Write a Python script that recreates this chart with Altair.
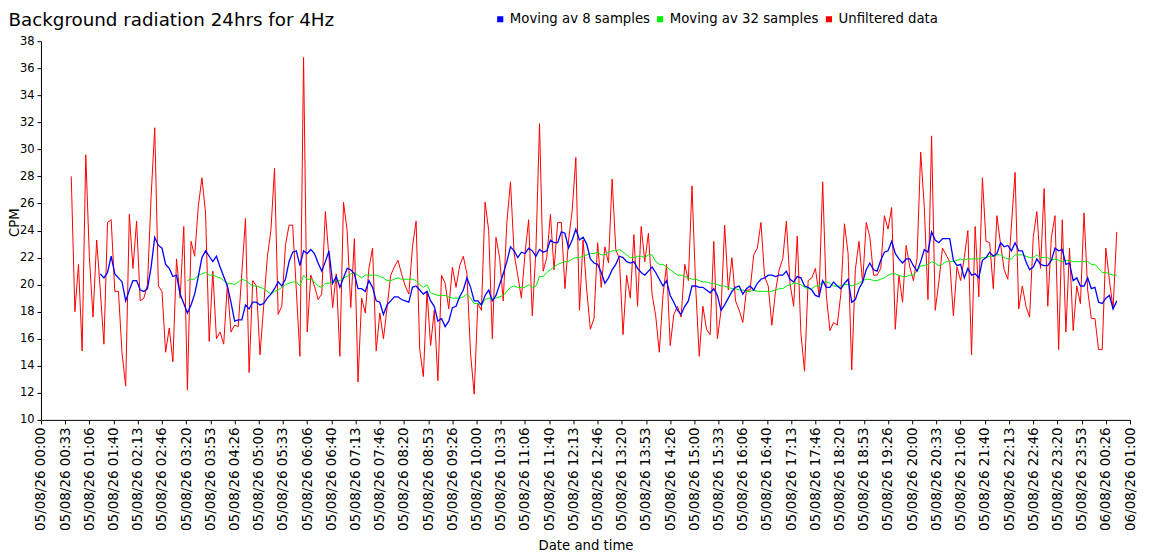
import json
import pandas as pd
import altair as alt

# ---------------- data ----------------
START_MIN = 41.7      # first sample time, minutes after 05/08/26 00:00
STEP_MIN = 5          # sample interval in minutes

UNFILTERED = [
    28.0, 18.0, 21.5, 15.1, 29.6, 22.0, 17.6, 23.3, 19.6, 15.6,
    24.6, 24.8, 19.5, 19.5, 14.9, 12.5, 25.2, 21.2, 24.7, 18.8,
    19.0, 20.0, 26.5, 31.6, 19.9, 19.5, 15.0, 16.8, 14.3, 21.9,
    19.0, 24.3, 12.2, 23.2, 22.1, 25.8, 27.9, 25.3, 15.8, 21.0,
    16.0, 16.5, 15.6, 20.0, 16.5, 17.0, 16.9,
    20.9, 24.9, 13.5, 20.3, 19.9, 14.8, 18.4, 22.0, 24.0, 28.6,
    17.8, 18.4, 22.9, 24.4, 24.4, 19.6, 14.7, 36.8, 16.5, 20.7,
    19.9, 18.9, 19.3, 25.4, 22.0, 18.3, 20.8, 14.7, 26.1, 24.0,
    18.3, 23.4, 12.8, 19.0, 17.9, 21.2, 22.7, 15.1, 17.9, 16.0,
    18.3, 20.7, 21.3, 21.8, 20.8, 19.9, 19.3, 22.8,
    24.7, 15.2, 13.2, 19.5, 15.5, 18.1, 12.9, 20.7, 20.1, 18.2,
    21.3, 19.8, 21.4, 22.1, 20.8, 14.9, 11.9, 18.6, 18.1, 26.1,
    24.0, 16.0, 23.5, 22.0, 18.8, 24.6, 27.6, 22.3, 20.7, 19.0,
    22.3, 24.8, 17.7, 22.5, 31.9, 21.0, 22.0, 25.2, 21.1, 24.6,
    24.6, 19.7, 23.3, 25.5, 29.4, 18.1, 23.3, 19.6,
    16.7, 17.5, 23.1, 19.8, 22.8, 21.6, 27.8, 22.6, 21.9, 16.3,
    20.7, 19.0, 23.7, 18.4, 24.3, 21.7, 23.8, 19.3, 17.7, 15.0,
    19.2, 21.5, 15.5, 17.8, 18.4, 17.6, 21.5, 20.3, 27.3, 19.9,
    14.7, 18.4, 16.7, 16.3, 23.2, 16.0, 18.1, 24.4, 19.6, 22.0,
    18.8, 18.1, 17.2, 19.6, 19.6, 22.2, 22.7, 24.6, 20.6,
    19.9, 17.0, 19.5, 21.1, 21.9, 24.7, 20.1, 18.4, 23.6, 16.4,
    13.6, 20.3, 20.5, 21.2, 19.2, 27.6, 19.2, 16.6, 17.2, 17.0,
    19.3, 24.5, 22.3, 13.7, 21.1, 23.2, 20.1, 24.6, 23.5, 20.7,
    20.7, 21.2, 25.1, 24.1, 25.7, 16.7, 20.7, 18.7, 22.9, 21.3,
    20.3, 22.0, 29.8, 25.7, 18.9, 31.0, 18.1,
    20.2, 22.7, 22.2, 21.7, 17.7, 21.3, 20.3, 22.0, 24.0, 14.8,
    24.3, 19.1, 27.9, 23.2, 23.1, 19.7, 25.1, 23.0, 21.1, 20.4,
    24.4, 28.3, 18.2, 19.9, 18.4, 17.6, 23.5, 25.4, 21.2, 27.1,
    18.4, 23.5, 25.1, 15.2, 24.8, 16.5, 22.7, 16.6, 19.9, 18.6,
    25.3, 19.6, 17.5, 17.5, 15.2, 15.2, 22.7, 20.3, 18.2, 23.9,
]

AV8_FIRST = 8         # index of the first sample that has an 8-sample average
AV8 = [
    20.8, 20.5, 20.9, 22.1, 20.8, 20.5, 20.2, 18.8, 19.6, 20.3,
    20.3, 19.6, 19.5, 19.7, 21.3, 23.5, 22.9, 22.7, 21.5, 21.2,
    20.6, 20.7, 19.3, 18.6, 17.9, 18.5, 19.3, 20.6, 22.0, 22.5,
    22.1, 21.7, 22.1, 21.3, 20.6, 19.9, 18.7, 17.3, 17.4,
    17.4, 18.5, 18.2, 18.7, 18.7, 18.5, 18.6, 19.0, 19.3, 19.7,
    20.2, 19.9, 20.4, 21.7, 22.4, 22.5, 21.4, 22.5, 22.3, 22.6,
    22.3, 21.6, 21.0, 21.7, 22.5, 20.1, 20.6, 19.8, 20.5, 21.2,
    21.1, 20.8, 19.7, 19.7, 19.5, 20.3, 19.8, 18.8, 18.7, 17.8,
    18.5, 18.8, 19.1, 19.1, 18.9, 18.8, 18.7, 19.8,
    19.9, 19.6, 19.3, 19.5, 18.8, 18.4, 17.3, 17.5, 16.9, 17.3,
    18.3, 18.4, 19.1, 19.6, 20.5, 19.8, 18.8, 18.8, 18.5, 19.2,
    19.6, 18.8, 19.2, 20.0, 20.8, 21.7, 22.8, 22.5, 22.0, 22.4,
    22.3, 22.7, 22.5, 22.1, 22.6, 22.4, 22.5, 23.3, 23.1, 23.1,
    23.9, 23.8, 22.7, 23.3, 24.1, 23.3, 23.5, 23.0,
    21.9, 21.6, 21.5, 20.9, 20.1, 20.5, 21.1, 21.5, 22.1, 22.0,
    21.7, 21.6, 21.7, 21.2, 20.9, 20.7, 21.0, 21.3, 20.9, 20.4,
    19.9, 20.3, 19.2, 18.7, 18.1, 17.8, 18.4, 18.8, 19.9, 19.9,
    19.8, 19.8, 19.6, 19.4, 19.7, 19.2, 18.1, 18.5, 19.0, 19.5,
    19.8, 19.9, 19.3, 19.7, 19.9, 19.6, 20.1, 20.4, 20.5,
    20.7, 20.7, 20.6, 20.7, 20.7, 21.0, 20.4, 20.2, 20.6, 20.5,
    19.9, 19.8, 19.6, 19.2, 19.1, 20.3, 19.8, 19.8, 20.2, 19.9,
    19.7, 20.1, 20.4, 18.7, 18.9, 19.7, 20.2, 21.1, 21.6, 21.1,
    21.0, 21.8, 22.4, 22.5, 23.2, 22.3, 21.9, 21.6, 21.9, 21.9,
    21.4, 21.0, 21.7, 22.6, 22.4, 23.9, 23.3, 23.1,
    23.4, 23.4, 23.4, 21.8, 21.4, 21.5, 20.5, 21.2, 20.7, 20.8,
    20.5, 21.8, 22.0, 22.4, 22.1, 22.3, 23.1, 22.8, 22.9, 22.5,
    23.1, 22.5, 22.5, 21.7, 21.1, 21.3, 21.9, 21.5, 21.4, 21.4,
    21.8, 22.7, 22.5, 22.6, 21.5, 21.6, 20.3, 20.5, 19.9, 19.9,
    20.5, 19.7, 19.8, 18.7, 18.6, 19.0, 19.2, 18.2, 18.8,
]

AV32_FIRST = 32       # index of the first sample that has a 32-sample average
AV32 = [
    20.3, 20.4, 20.4, 20.7, 20.8, 20.9, 20.7, 20.7, 20.6, 20.5,
    20.3, 20.1, 20.1, 20.0, 20.2,
    20.4, 20.3, 20.1, 19.9, 19.9, 19.8, 19.7, 19.5, 19.3, 19.5,
    19.6, 19.8, 20.0, 20.1, 20.2, 20.2, 19.9, 20.7, 20.4, 20.4,
    20.2, 19.9, 19.8, 20.1, 20.1, 20.2, 20.3, 20.3, 20.5, 20.6,
    20.8, 20.9, 20.7, 20.5, 20.7, 20.7, 20.7, 20.7, 20.6, 20.5,
    20.3, 20.3, 20.4, 20.5, 20.4, 20.4, 20.4, 20.4,
    20.3, 20.0, 19.8, 20.0, 19.4, 19.3, 19.2, 19.2, 19.2, 19.1,
    19.0, 19.0, 19.0, 19.1, 19.3, 19.0, 18.6, 18.6, 18.5, 18.9,
    19.0, 19.0, 19.0, 19.1, 19.2, 19.5, 19.8, 19.9, 19.8, 19.8,
    19.8, 20.0, 19.8, 19.9, 20.6, 20.6, 20.9, 21.1, 21.3, 21.5,
    21.6, 21.7, 21.7, 21.9, 22.0, 22.0, 22.1, 22.2,
    22.3, 22.3, 22.4, 22.2, 22.2, 22.4, 22.5, 22.5, 22.6, 22.4,
    22.2, 22.0, 22.0, 22.1, 22.1, 22.0, 22.2, 22.2, 21.7, 21.5,
    21.5, 21.3, 21.1, 20.9, 20.7, 20.7, 20.6, 20.5, 20.4, 20.4,
    20.3, 20.2, 20.2, 20.1, 20.1, 20.0, 19.9, 19.9, 19.8, 19.7,
    19.7, 19.6, 19.6, 19.5, 19.5, 19.6, 19.5, 19.5, 19.5,
    19.5, 19.5, 19.6, 19.7, 19.7, 19.9, 20.0, 20.1, 20.1, 20.0,
    19.8, 19.7, 19.7, 19.9, 19.9, 20.2, 20.2, 20.1, 19.9, 19.9,
    19.9, 20.0, 20.0, 19.9, 20.0, 20.1, 20.3, 20.4, 20.4, 20.3,
    20.3, 20.4, 20.5, 20.7, 20.8, 20.8, 20.7, 20.6, 20.6, 20.7,
    20.7, 21.0, 21.4, 21.4, 21.5, 21.7, 21.6, 21.4,
    21.5, 21.7, 21.7, 21.7, 21.8, 21.9, 21.8, 21.9, 21.9, 21.9,
    21.9, 22.0, 22.0, 22.1, 22.1, 22.2, 22.2, 22.0, 21.9, 21.9,
    22.2, 22.2, 22.2, 22.1, 22.0, 22.0, 22.2, 22.0, 22.0, 22.0,
    21.8, 21.9, 21.8, 21.7, 21.8, 21.8, 21.7, 21.7, 21.7, 21.7,
    21.7, 21.5, 21.5, 21.2, 20.9, 20.9, 20.8, 20.7, 20.7,
]

SERIES = ["Moving av 8 samples", "Moving av 32 samples", "Unfiltered data"]
COLORS = ["#0000ff", "#00ee00", "#ff0000"]

TICK_LABELS = [
    "05/08/26 00:00", "05/08/26 00:33", "05/08/26 01:06", "05/08/26 01:40",
    "05/08/26 02:13", "05/08/26 02:46", "05/08/26 03:20", "05/08/26 03:53",
    "05/08/26 04:26", "05/08/26 05:00", "05/08/26 05:33", "05/08/26 06:06",
    "05/08/26 06:40", "05/08/26 07:13", "05/08/26 07:46", "05/08/26 08:20",
    "05/08/26 08:53", "05/08/26 09:26", "05/08/26 10:00", "05/08/26 10:33",
    "05/08/26 11:06", "05/08/26 11:40", "05/08/26 12:13", "05/08/26 12:46",
    "05/08/26 13:20", "05/08/26 13:53", "05/08/26 14:26", "05/08/26 15:00",
    "05/08/26 15:33", "05/08/26 16:06", "05/08/26 16:40", "05/08/26 17:13",
    "05/08/26 17:46", "05/08/26 18:20", "05/08/26 18:53", "05/08/26 19:26",
    "05/08/26 20:00", "05/08/26 20:33", "05/08/26 21:06", "05/08/26 21:40",
    "05/08/26 22:13", "05/08/26 22:46", "05/08/26 23:20", "05/08/26 23:53",
    "06/08/26 00:26", "06/08/26 01:00",
]
X_SPAN_MIN = 1500     # 00:00 .. 01:00 next day
Y_TICKS = list(range(10, 39, 2))

# ---------------- build long table ----------------
rows = []
for i, v in enumerate(UNFILTERED):
    rows.append({"t": START_MIN + STEP_MIN * i, "v": v, "series": SERIES[2]})
for j, v in enumerate(AV32):
    rows.append({"t": START_MIN + STEP_MIN * (AV32_FIRST + j), "v": v, "series": SERIES[1]})
for j, v in enumerate(AV8):
    rows.append({"t": START_MIN + STEP_MIN * (AV8_FIRST + j), "v": v, "series": SERIES[0]})
df = pd.DataFrame(rows)

FONT = "DejaVu Sans"
tick_step = X_SPAN_MIN / (len(TICK_LABELS) - 1)
tick_values = [k * tick_step for k in range(len(TICK_LABELS))]
label_expr = f"{json.dumps(TICK_LABELS)}[round(datum.value / {tick_step})]"

x_enc = alt.X(
    "t:Q",
    scale=alt.Scale(domain=[0, X_SPAN_MIN], nice=False, zero=False),
    axis=alt.Axis(
        values=tick_values, labelExpr=label_expr, labelAngle=270,
        labelFont=FONT, labelFontSize=13.5, labelColor="black",
        labelOverlap=False, labelFlush=False, labelPadding=3,
        tickSize=4, tickColor="black", domainColor="black", grid=False,
        title="Date and time", titleFont=FONT, titleFontSize=13.3,
        titleFontWeight="normal", titleColor="black", titlePadding=8,
    ),
)
y_enc = alt.Y(
    "v:Q",
    scale=alt.Scale(domain=[10, 38], nice=False, zero=False),
    axis=alt.Axis(
        values=Y_TICKS, labelFont=FONT, labelFontSize=11.5, labelColor="black",
        tickSize=4, tickColor="black", domainColor="black", grid=False,
        labelPadding=3,
        title="CPM", titleFont=FONT, titleFontSize=13.3, titleFontWeight="normal",
        titleColor="black", titleX=-22.5, titleY=181, titleBaseline="alphabetic",
        titleAngle=270, titleAlign="center",
    ),
)
color_enc = alt.Color(
    "series:N",
    scale=alt.Scale(domain=SERIES, range=COLORS),
    legend=alt.Legend(
        title=None, orient="none", direction="horizontal",
        legendX=453, legendY=-29, padding=0,
        symbolType="square", symbolSize=10, symbolStrokeWidth=3,
        labelFont=FONT, labelFontSize=13.3, labelColor="black",
        labelOffset=3, columnPadding=2,
    ),
)

base = alt.Chart(df)
layers = []
for name, width in [(SERIES[2], 1.0), (SERIES[1], 1.0), (SERIES[0], 1.3)]:
    layers.append(
        base.transform_filter(alt.datum.series == name)
        .mark_line(strokeWidth=width, interpolate="linear")
        .encode(x=x_enc, y=y_enc, color=color_enc)
    )

chart = (
    alt.layer(*layers)
    .properties(
        width=1090, height=379,
        title=alt.TitleParams(
            text="Background radiation 24hrs for 4Hz", anchor="start",
            font=FONT, fontSize=18.3, fontWeight="normal", color="black",
            baseline="alphabetic", dx=1, offset=-32.5,
        ),
        padding={"left": 33, "top": 33, "right": 12, "bottom": 139},
        autosize=alt.AutoSizeParams(type="none"),
        background="white",
    )
    .configure_view(strokeOpacity=0)
)

chart.save("out.html", embed_options={"renderer": "svg", "actions": False})
